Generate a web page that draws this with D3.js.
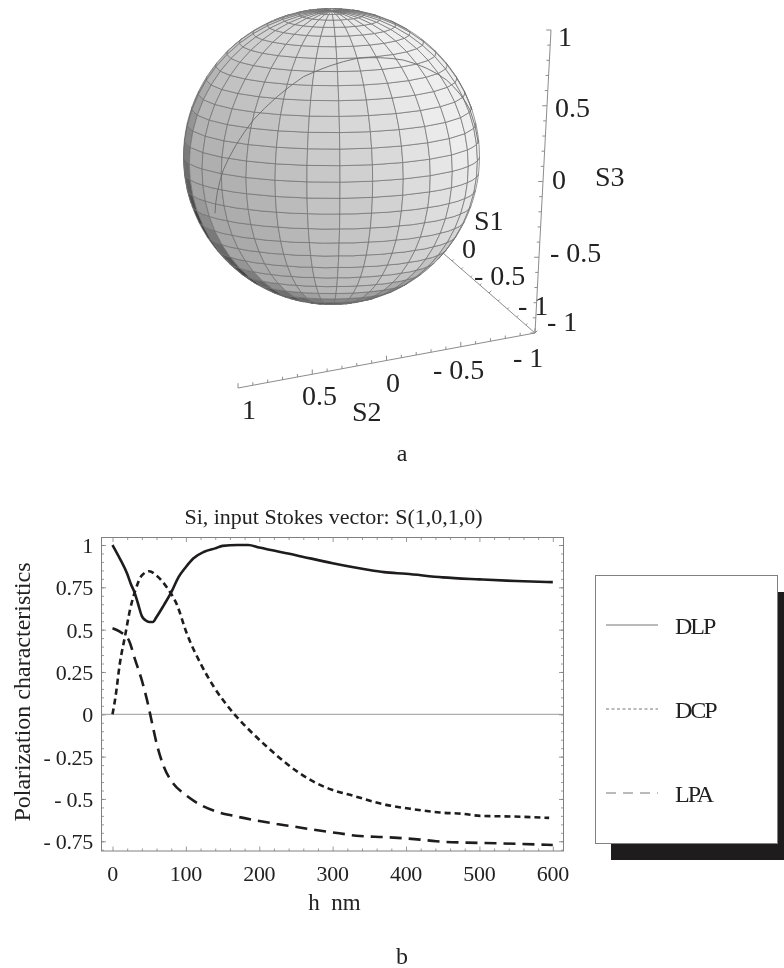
<!DOCTYPE html>
<html>
<head>
<meta charset="utf-8">
<script src="https://cdn.jsdelivr.net/npm/d3@7"></script>
<style>
  html, body { margin: 0; padding: 0; background: #fff; }
  svg { display: block; filter: blur(0.35px); }
  text { font-family: "Liberation Serif", serif; fill: #222; white-space: pre; }
</style>
</head>
<body>
<div id="wrapper"></div>
<script>
// curve data
const dlpH = [0, 10, 20, 25, 30, 35, 40, 45, 50, 55, 60, 70, 80, 90, 100, 110, 125, 140, 150, 170, 185, 200, 250, 300, 350, 370, 400, 450, 500, 550, 600];
const dlpV = [1, 0.92, 0.83, 0.77, 0.72, 0.65, 0.58, 0.555, 0.545, 0.545, 0.575, 0.645, 0.72, 0.81, 0.87, 0.92, 0.96, 0.98, 0.995, 1, 1, 0.985, 0.94, 0.892, 0.852, 0.84, 0.83, 0.809, 0.797, 0.787, 0.781];

const dcpH = [0, 4, 10, 17, 24, 31, 40, 50, 60, 74, 88, 101, 120, 138, 165, 188, 210, 227, 254, 277, 300, 327, 373, 409, 446, 478, 501, 547, 595];
const dcpV = [0, 0.1, 0.3, 0.46, 0.62, 0.73, 0.82, 0.845, 0.82, 0.75, 0.645, 0.48, 0.3, 0.163, 0.006, -0.1, -0.19, -0.255, -0.345, -0.405, -0.447, -0.48, -0.535, -0.56, -0.58, -0.588, -0.6, -0.604, -0.612];

const lpaH = [0, 10, 22, 31, 40, 47, 54, 60, 70, 83, 97, 120, 142, 165, 192, 224, 247, 273, 309, 332, 373, 419, 441, 482, 524, 600];
const lpaV = [0.508, 0.488, 0.44, 0.32, 0.2, 0.085, -0.053, -0.17, -0.31, -0.41, -0.467, -0.535, -0.575, -0.6, -0.624, -0.648, -0.663, -0.681, -0.703, -0.717, -0.726, -0.74, -0.75, -0.758, -0.762, -0.772];

const xTicks = [0, 100, 200, 300, 400, 500, 600];
const yTicks = [1, 0.75, 0.5, 0.25, 0, -0.25, -0.5, -0.75];
const legendNames = ["DLP", "DCP", "LPA"];

// trajectory on the sphere as [lon, lat]
const trajectory = [[-55.4, -17.1], [-47, 1.6], [-34.9, 22.6], [-14.9, 42.3], [15.7, 51.2], [46.4, 48], [71.3, 34.8], [83.8, 19.7], [85.8, 5.9]];

// mesh of the sphere, counted on the picture
const meridianCount = 28;
const parallelCount = 28;
const lonPhase = 3.3;

const svg = d3.select("#wrapper").append("svg").attr("width", 784).attr("height", 968);

function label(x, y, str, size, anchor) {
  return svg.append("text")
    .attr("x", x).attr("y", y)
    .attr("font-size", size)
    .attr("text-anchor", anchor || "start")
    .text(str);
}

// ---------- a: 3D axes ----------
const corner = [535, 333];
const axisColor = "#8c8c8c";

function drawAxis3d(end, tickDx, tickDy) {
  const sx = d3.scaleLinear().domain([-1, 1]).range([corner[0], end[0]]);
  const sy = d3.scaleLinear().domain([-1, 1]).range([corner[1], end[1]]);
  const g = svg.append("g").attr("stroke", axisColor).attr("fill", "none");
  g.append("line")
    .attr("x1", sx(-1)).attr("y1", sy(-1))
    .attr("x2", sx(1)).attr("y2", sy(1));
  g.selectAll("line.tick")
    .data(d3.range(-10, 11))
    .join("line")
    .attr("class", "tick")
    .attr("x1", (d) => sx(d / 10))
    .attr("y1", (d) => sy(d / 10))
    .attr("x2", (d) => sx(d / 10) + (d % 5 == 0 ? 1.6 : 1) * tickDx)
    .attr("y2", (d) => sy(d / 10) + (d % 5 == 0 ? 1.6 : 1) * tickDy);
}

drawAxis3d([351, 173], 1.5, -1.5); // S1
drawAxis3d([238, 388], 0, -3); // S2
drawAxis3d([551, 30], -3, 0); // S3

// ---------- a: sphere ----------
const cx = 331.5;
const cy = 156.5;
const radius = 148;
const tilt = -10;

const projection = d3.geoOrthographic()
  .rotate([0, tilt])
  .translate([cx, cy])
  .scale(radius)
  .clipAngle(90)
  .precision(0.3);
const path = d3.geoPath(projection);
const toView = d3.geoRotation([0, tilt]);

const toRad = Math.PI / 180;
function viewNormal(lon, lat) {
  const p = toView([lon, lat]);
  const cosLat = Math.cos(p[1] * toRad);
  return [cosLat * Math.sin(p[0] * toRad), Math.sin(p[1] * toRad), cosLat * Math.cos(p[0] * toRad)];
}

const lonScale = d3.scaleLinear().domain([0, meridianCount]).range([-180 + lonPhase, 180 + lonPhase]);
const latScale = d3.scaleLinear().domain([0, parallelCount]).range([-90, 90]);

const faces = [];
d3.range(meridianCount).forEach((i) => {
  d3.range(parallelCount).forEach((j) => {
    faces.push({ lon0: lonScale(i), lat0: latScale(j), lon1: lonScale(i + 1), lat1: latScale(j + 1) });
  });
});

// soft light from upper right, with a dark rim at the lower left
const shade = (f) => {
  const n = viewNormal((f.lon0 + f.lon1) / 2, (f.lat0 + f.lat1) / 2);
  let g = 205 + 35 * n[0] + 25 * n[1];
  const rim = Math.max(0, 0.2 - 0.8 * n[1] - 0.6 * n[0]);
  if (n[2] < 0.35) g -= ((0.35 - n[2]) / 0.35) * rim * 125;
  g = Math.max(60, Math.min(238, g));
  return d3.rgb(g, g, g).formatHex();
};

svg.append("g")
  .selectAll("path")
  .data(faces)
  .join("path")
  .attr("d", (f) => path({
    type: "Polygon",
    coordinates: [[[f.lon0, f.lat0], [f.lon0, f.lat1], [f.lon1, f.lat1], [f.lon1, f.lat0], [f.lon0, f.lat0]]],
  }))
  .attr("fill", shade)
  .attr("stroke", "#6f6f6f")
  .attr("stroke-width", 0.7);

svg.append("path")
  .attr("d", path({ type: "LineString", coordinates: trajectory }))
  .attr("fill", "none")
  .attr("stroke", "#6a6a6a")
  .attr("stroke-width", 0.9);

// axis text
label(558, 46, "1", 28);
label(555, 117, "0.5", 28);
label(552, 189, "0", 28);
label(595, 186, "S3", 28);
label(550, 262, "- 0.5", 28);
label(547, 331, "- 1", 28);
label(474, 230, "S1", 28);
label(462, 258, "0", 28);
label(474, 285, "- 0.5", 28);
label(518, 315, "- 1", 28);
label(513, 367, "- 1", 28);
label(433, 379, "- 0.5", 28);
label(386, 392, "0", 28);
label(302, 405, "0.5", 28);
label(242, 419, "1", 28);
label(352, 421, "S2", 28);
label(402, 461, "a", 24, "middle");

// ---------- b: line chart ----------
const frame = { left: 101.5, right: 563.5, top: 537.5, bottom: 851 };
const xScale = d3.scaleLinear().domain([0, 600]).range([112.5, 552.8]);
const yScale = d3.scaleLinear().domain([0, 1]).range([714.3, 545]);
const xRange = [xScale.invert(frame.left), xScale.invert(frame.right)];
const yRange = [yScale.invert(frame.bottom), yScale.invert(frame.top)];
const frameColor = "#808080";

const minorX = d3.range(-20, 621, 20).filter((d) => d >= xRange[0] && d <= xRange[1] && d % 100 != 0);
const minorY = d3.range(-16, 21).map((d) => d * 0.05).filter((d) => d >= yRange[0] && d <= yRange[1]);

function tickAxis(generator, values, size, transform) {
  const g = svg.append("g")
    .attr("transform", transform)
    .call(generator.tickValues(values).tickSize(size).tickFormat(""));
  g.select(".domain").remove();
  g.selectAll("line").attr("stroke", frameColor).attr("stroke-width", 0.8);
}

tickAxis(d3.axisBottom(xScale), minorX, -2.5, `translate(0,${frame.bottom})`);
tickAxis(d3.axisBottom(xScale), xTicks, -4.5, `translate(0,${frame.bottom})`);
tickAxis(d3.axisTop(xScale), minorX, -2.5, `translate(0,${frame.top})`);
tickAxis(d3.axisTop(xScale), xTicks, -4.5, `translate(0,${frame.top})`);
tickAxis(d3.axisLeft(yScale), minorY, -2.5, `translate(${frame.left},0)`);
tickAxis(d3.axisLeft(yScale), yTicks, -4.5, `translate(${frame.left},0)`);
tickAxis(d3.axisRight(yScale), minorY, -2.5, `translate(${frame.right},0)`);
tickAxis(d3.axisRight(yScale), yTicks, -4.5, `translate(${frame.right},0)`);

svg.append("rect")
  .attr("x", frame.left).attr("y", frame.top)
  .attr("width", frame.right - frame.left)
  .attr("height", frame.bottom - frame.top)
  .attr("fill", "none")
  .attr("stroke", frameColor);

svg.append("line")
  .attr("x1", frame.left).attr("x2", frame.right)
  .attr("y1", yScale(0)).attr("y2", yScale(0))
  .attr("stroke", "#999");

const line = d3.line()
  .x((d) => xScale(d[0]))
  .y((d) => yScale(d[1]))
  .curve(d3.curveMonotoneX);

const series = [
  { h: dlpH, v: dlpV, dash: null },
  { h: dcpH, v: dcpV, dash: "6 4" },
  { h: lpaH, v: lpaV, dash: "12 7" },
];

svg.append("g")
  .selectAll("path")
  .data(series)
  .join("path")
  .attr("d", (s) => line(s.h.map((h, i) => [h, s.v[i]])))
  .attr("fill", "none")
  .attr("stroke", "#1e1c1c")
  .attr("stroke-width", 2.6)
  .attr("stroke-dasharray", (s) => s.dash);

// tick labels
xTicks.forEach((t) => label(xScale(t), 881, t, 22, "middle").attr("letter-spacing", -0.3));
yTicks.forEach((t) => {
  const str = t < 0 ? "- " + Math.abs(t) : String(t);
  label(93, yScale(t) + 8, str, 22, "end").attr("letter-spacing", -0.3);
});

label(333.5, 524, "Si, input Stokes vector: S(1,0,1,0)", 22, "middle");
label(334.5, 910, "h  nm", 23, "middle");
label(0, 0, "Polarization characteristics", 24, "middle")
  .attr("transform", "translate(30,692) rotate(-90)");
label(402, 964, "b", 24, "middle");

// ---------- legend ----------
svg.append("rect")
  .attr("x", 611).attr("y", 592)
  .attr("width", 173).attr("height", 268)
  .attr("fill", "#1e1c1c");
svg.append("rect")
  .attr("x", 595.5).attr("y", 575.5)
  .attr("width", 182).attr("height", 268)
  .attr("fill", "#fff")
  .attr("stroke", "#808080");

const legendY = d3.scalePoint().domain(legendNames).range([625, 793]);
const legendDash = { DLP: null, DCP: "3 2.5", LPA: "10 7" };
legendNames.forEach((name) => {
  svg.append("line")
    .attr("x1", 606).attr("x2", 658)
    .attr("y1", legendY(name)).attr("y2", legendY(name))
    .attr("stroke", "#777")
    .attr("stroke-dasharray", legendDash[name]);
  label(675, legendY(name) + 8.5, name, 24).attr("letter-spacing", -2);
});
</script>
</body>
</html>
